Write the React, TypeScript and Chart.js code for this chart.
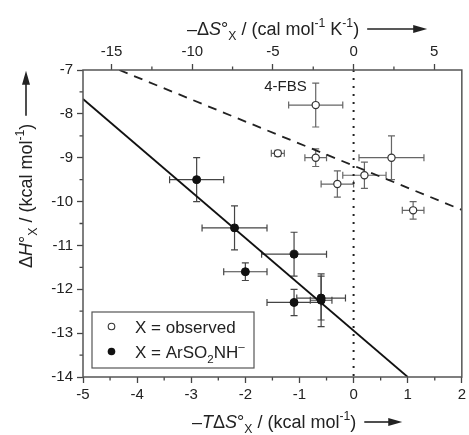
import { useEffect, useRef } from 'react';
import { Chart, registerables } from 'chart.js';

Chart.register(...registerables);

const FONT = '"Liberation Sans", Arial, Helvetica, sans-serif';
const TEMP_K = 0.29815; // T in kK, converts -TΔS (kcal) to -ΔS (cal/K)

// axes
const xTicks = [-5, -4, -3, -2, -1, 0, 1, 2];
const xMinorTicks = [-4.5, -3.5, -2.5, -1.5, -0.5, 0.5, 1.5];
const yTicks = [-7, -8, -9, -10, -11, -12, -13, -14];
const yMinorTicks = [-7.5, -8.5, -9.5, -10.5, -11.5, -12.5, -13.5];
const topTicks = [-15, -10, -5, 0, 5];
const topMinorTicks = [-12.5, -7.5, -2.5, 2.5];

// X = observed (open circles)
const obsX = [-0.7, -1.4, -0.7, -0.3, 0.2, 0.7, 1.1];
const obsY = [-7.8, -8.9, -9.0, -9.6, -9.4, -9.0, -10.2];
const obsXErr = [0.5, 0.12, 0.2, 0.3, 0.4, 0.6, 0.2];
const obsYErr = [0.5, 0.07, 0.2, 0.3, 0.3, 0.5, 0.2];
const obsLabels = ['4-FBS', '', '', '', '', '', ''];

// X = ArSO2NH− (filled circles)
const bndX = [-2.9, -2.2, -2.0, -1.1, -1.1, -0.6, -0.6];
const bndY = [-9.5, -10.6, -11.6, -11.2, -12.3, -12.2, -12.25];
const bndXErr = [0.5, 0.6, 0.4, 0.6, 0.5, 0.45, 0.2];
const bndYErr = [0.5, 0.5, 0.2, 0.5, 0.3, 0.5, 0.6];

// fitted lines
const solidFitX = [-5, 1.0];
const solidFitY = [-7.66, -14.0];
const dashedFitX = [-4.33, 2];
const dashedFitY = [-7.0, -10.19];
const zeroLineX = [0, 0];
const zeroLineY = [-7, -14];

type Seg = { t: string; i?: boolean; sub?: boolean; sup?: boolean };

const topTitle: Seg[] = [
  { t: '\u2013\u0394' }, { t: 'S', i: true }, { t: '\u00b0' }, { t: 'X', sub: true },
  { t: ' / (cal mol' }, { t: '-1', sup: true }, { t: ' K' }, { t: '-1', sup: true }, { t: ')' },
];
const bottomTitle: Seg[] = [
  { t: '\u2013' }, { t: 'T', i: true }, { t: '\u0394' }, { t: 'S', i: true }, { t: '\u00b0' }, { t: 'X', sub: true },
  { t: ' / (kcal mol' }, { t: '-1', sup: true }, { t: ')' },
];
const leftTitle: Seg[] = [
  { t: '\u0394' }, { t: 'H', i: true }, { t: '\u00b0' }, { t: 'X', sub: true },
  { t: ' / (kcal mol' }, { t: '-1', sup: true }, { t: ')' },
];
const legendObs: Seg[] = [{ t: 'X = observed' }];
const legendBnd: Seg[] = [{ t: 'X = ArSO' }, { t: '2', sub: true }, { t: 'NH' }, { t: '\u2013', sup: true }];

function drawRich(ctx: CanvasRenderingContext2D, segs: Seg[], x: number, y: number, size: number, draw = true) {
  let cx = x;
  for (const s of segs) {
    const small = s.sub || s.sup;
    const fs = small ? size * 0.68 : size;
    ctx.font = `${s.i ? 'italic ' : ''}${fs}px ${FONT}`;
    const dy = s.sub ? size * 0.3 : s.sup ? -size * 0.42 : 0;
    if (draw) ctx.fillText(s.t, cx, y + dy);
    cx += ctx.measureText(s.t).width;
  }
  return cx - x;
}

function drawArrow(ctx: CanvasRenderingContext2D, x0: number, y: number, len: number) {
  ctx.beginPath();
  ctx.moveTo(x0, y);
  ctx.lineTo(x0 + len - 8, y);
  ctx.lineWidth = 1.6;
  ctx.stroke();
  ctx.beginPath();
  ctx.moveTo(x0 + len, y);
  ctx.lineTo(x0 + len - 14, y - 4);
  ctx.lineTo(x0 + len - 14, y + 4);
  ctx.closePath();
  ctx.fill();
}

function drawErrBars(ctx: CanvasRenderingContext2D, xs: any, ys: any, X: number[], Y: number[], XE: number[], YE: number[], color: string) {
  const cap = 3.5;
  ctx.strokeStyle = color;
  ctx.lineWidth = 1.2;
  for (let i = 0; i < X.length; i++) {
    const px = xs.getPixelForValue(X[i]);
    const py = ys.getPixelForValue(Y[i]);
    const x1 = xs.getPixelForValue(X[i] - XE[i]);
    const x2 = xs.getPixelForValue(X[i] + XE[i]);
    const y1 = ys.getPixelForValue(Y[i] - YE[i]);
    const y2 = ys.getPixelForValue(Y[i] + YE[i]);
    ctx.beginPath();
    ctx.moveTo(x1, py); ctx.lineTo(x2, py);
    ctx.moveTo(x1, py - cap); ctx.lineTo(x1, py + cap);
    ctx.moveTo(x2, py - cap); ctx.lineTo(x2, py + cap);
    ctx.moveTo(px, y1); ctx.lineTo(px, y2);
    ctx.moveTo(px - cap, y1); ctx.lineTo(px + cap, y1);
    ctx.moveTo(px - cap, y2); ctx.lineTo(px + cap, y2);
    ctx.stroke();
  }
}

const decorPlugin = {
  id: 'decor',
  beforeDatasetsDraw(chart: any) {
    const { ctx, chartArea: a, scales } = chart;
    const xs = scales.x, ys = scales.y, xt = scales.x2;
    ctx.save();
    // minor ticks
    ctx.strokeStyle = '#444';
    ctx.lineWidth = 1.3;
    ctx.beginPath();
    for (const v of xMinorTicks) {
      const p = xs.getPixelForValue(v);
      ctx.moveTo(p, a.bottom); ctx.lineTo(p, a.bottom + 3.5);
    }
    for (const v of yMinorTicks) {
      const p = ys.getPixelForValue(v);
      ctx.moveTo(a.left, p); ctx.lineTo(a.left - 3.5, p);
    }
    for (const v of topMinorTicks) {
      const p = xt.getPixelForValue(v);
      ctx.moveTo(p, a.top); ctx.lineTo(p, a.top - 3.5);
    }
    ctx.stroke();
    // error bars
    drawErrBars(ctx, xs, ys, obsX, obsY, obsXErr, obsYErr, '#666');
    drawErrBars(ctx, xs, ys, bndX, bndY, bndXErr, bndYErr, '#444');
    ctx.restore();
  },
  afterDraw(chart: any) {
    const { ctx, chartArea: a, scales } = chart;
    const xs = scales.x, ys = scales.y;
    ctx.save();
    // frame
    ctx.strokeStyle = '#555';
    ctx.lineWidth = 1.5;
    ctx.strokeRect(a.left, a.top, a.right - a.left, a.bottom - a.top);
    ctx.fillStyle = '#222';
    ctx.strokeStyle = '#222';
    ctx.textBaseline = 'alphabetic';
    ctx.textAlign = 'left';
    const TS = 18;
    // top title
    let w = drawRich(ctx, topTitle, 187, 35, TS);
    drawArrow(ctx, 187 + w + 8, 29, 60);
    // bottom title
    w = drawRich(ctx, bottomTitle, 192, 428, TS);
    drawArrow(ctx, 192 + w + 8, 422, 38);
    // left title (rotated)
    ctx.save();
    ctx.translate(32, 268);
    ctx.rotate(-Math.PI / 2);
    w = drawRich(ctx, leftTitle, 0, 0, TS);
    drawArrow(ctx, w + 8, -6, 45);
    ctx.restore();
    // point labels
    ctx.font = `15px ${FONT}`;
    ctx.textAlign = 'right';
    ctx.textBaseline = 'middle';
    obsLabels.forEach((lab, i) => {
      if (!lab) return;
      const px = xs.getPixelForValue(obsX[i]);
      const py = ys.getPixelForValue(obsY[i]);
      ctx.fillText(lab, px - 9, py - 18);
    });
    // legend
    const lx = a.left + 9, ly = a.bottom - 65, lw = 162, lh = 56;
    ctx.fillStyle = '#fff';
    ctx.fillRect(lx, ly, lw, lh);
    ctx.strokeStyle = '#555';
    ctx.lineWidth = 1.2;
    ctx.strokeRect(lx, ly, lw, lh);
    ctx.beginPath();
    ctx.arc(lx + 19.5, ly + 14.5, 3.3, 0, Math.PI * 2);
    ctx.fillStyle = '#fff';
    ctx.fill();
    ctx.strokeStyle = '#333';
    ctx.lineWidth = 1.1;
    ctx.stroke();
    ctx.beginPath();
    ctx.arc(lx + 19.5, ly + 39.5, 3.8, 0, Math.PI * 2);
    ctx.fillStyle = '#111';
    ctx.fill();
    ctx.fillStyle = '#222';
    ctx.textAlign = 'left';
    ctx.textBaseline = 'alphabetic';
    drawRich(ctx, legendObs, lx + 43, ly + 20.5, 17);
    drawRich(ctx, legendBnd, lx + 43, ly + 45.5, 17);
    ctx.restore();
  },
};

export default function App() {
  const ref = useRef<HTMLCanvasElement | null>(null);
  useEffect(() => {
    if (!ref.current) return;
    const tickFont = { size: 15, family: FONT };
    const grid = { display: true, drawOnChartArea: false, drawTicks: true, tickLength: 6, tickColor: '#444', tickWidth: 1.3 };
    const chart = new Chart(ref.current, {
      type: 'scatter',
      data: {
        datasets: [
          {
            label: 'X = observed',
            data: obsX.map((x, i) => ({ x, y: obsY[i] })),
            pointRadius: 3.6,
            pointBackgroundColor: '#fff',
            pointBorderColor: '#333',
            pointBorderWidth: 1.2,
          },
          {
            label: 'X = ArSO2NH-',
            data: bndX.map((x, i) => ({ x, y: bndY[i] })),
            pointRadius: 4,
            pointBackgroundColor: '#111',
            pointBorderColor: '#111',
            pointBorderWidth: 1,
          },
          {
            label: 'fit bound',
            data: solidFitX.map((x, i) => ({ x, y: solidFitY[i] })),
            showLine: true,
            pointRadius: 0,
            borderColor: '#111',
            borderWidth: 1.8,
          },
          {
            label: 'fit observed',
            data: dashedFitX.map((x, i) => ({ x, y: dashedFitY[i] })),
            showLine: true,
            pointRadius: 0,
            borderColor: '#222',
            borderWidth: 1.8,
            borderDash: [9, 7],
          },
          {
            label: 'zero',
            data: zeroLineX.map((x, i) => ({ x, y: zeroLineY[i] })),
            showLine: true,
            pointRadius: 0,
            borderColor: '#222',
            borderWidth: 2,
            borderDash: [2, 6],
          },
        ],
      },
      options: {
        animation: false,
        responsive: false,
        maintainAspectRatio: false,
        layout: { padding: { left: 0, right: 5, top: 0, bottom: 0 } },
        plugins: { legend: { display: false }, tooltip: { enabled: false } },
        scales: {
          x: {
            type: 'linear', position: 'bottom', min: -5, max: 2,
            afterBuildTicks: (ax: any) => { ax.ticks = xTicks.map((v) => ({ value: v })); },
            afterFit: (s: any) => { s.height = 58; },
            ticks: { font: tickFont, color: '#222', padding: 3, callback: (v: any) => String(v) },
            grid, border: { display: false },
          },
          x2: {
            type: 'linear', position: 'top', min: -5 / TEMP_K, max: 2 / TEMP_K,
            afterBuildTicks: (ax: any) => { ax.ticks = topTicks.map((v) => ({ value: v })); },
            afterFit: (s: any) => { s.height = 70; },
            ticks: { font: tickFont, color: '#222', padding: 3, callback: (v: any) => String(v) },
            grid, border: { display: false },
          },
          y: {
            type: 'linear', position: 'left', min: -14, max: -7,
            afterBuildTicks: (ax: any) => { ax.ticks = yTicks.map((v) => ({ value: v })); },
            afterFit: (s: any) => { s.width = 83; },
            ticks: { font: tickFont, color: '#222', padding: 4, callback: (v: any) => String(v) },
            grid, border: { display: false },
          },
        },
      } as any,
      plugins: [decorPlugin],
    });
    return () => chart.destroy();
  }, []);
  return (
    <div style={{ position: 'fixed', left: 0, top: 0, width: 469, height: 435, background: '#fff' }}>
      <canvas ref={ref} width={469} height={435} style={{ width: 469, height: 435, display: 'block' }} />
    </div>
  );
}
